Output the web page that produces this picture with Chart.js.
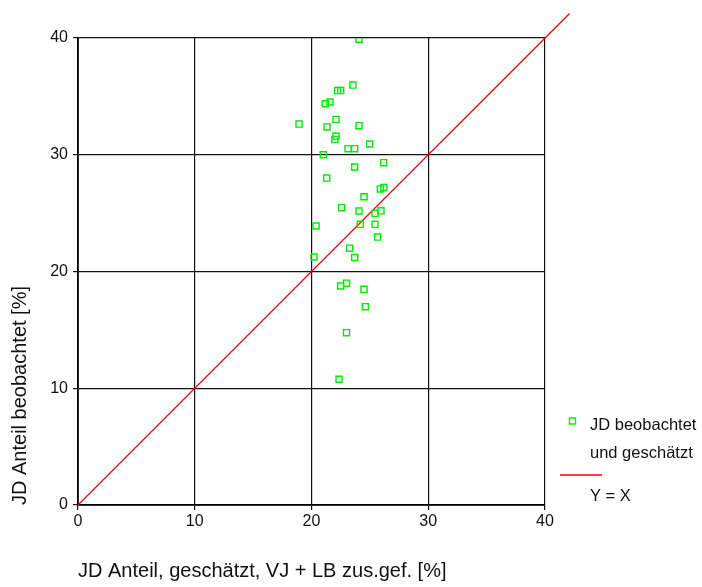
<!DOCTYPE html>
<html>
<head>
<meta charset="utf-8">
<script src="https://cdn.jsdelivr.net/npm/chart.js@4/dist/chart.umd.min.js"></script>
<style>
  html, body { margin: 0; padding: 0; background: #fff; }
  #c { display: block; }
</style>
</head>
<body>
<canvas id="c" width="702" height="587"></canvas>
<script>
// JD share: estimated (VJ + LB combined) vs. observed, in percent
const estimated = [24.07, 23.55, 22.24, 22.5, 21.58, 21.18, 18.93, 22.1, 21.33, 24.07,
                   22.1, 22.0, 23.13, 23.7, 24.98, 21.01, 23.7, 26.18, 21.3, 26.2,
                   25.9, 24.5, 22.58, 24.07, 25.44, 25.95, 24.18, 25.44, 20.39, 25.67,
                   23.27, 23.7, 20.21, 23.0, 22.5, 24.5, 24.61, 23.0, 22.36];
const observed  = [39.9, 35.97, 35.5, 35.5, 34.52, 34.37, 32.63, 33.03, 32.38, 32.49,
                   31.6, 31.3, 30.52, 30.52, 30.92, 30.0, 28.95, 29.32, 28.0, 27.2,
                   27.07, 26.4, 25.47, 25.18, 24.98, 25.2, 24.04, 24.04, 23.9, 22.95,
                   22.0, 21.2, 21.24, 19.0, 18.76, 18.47, 16.99, 14.76, 10.77];
// Reference line Y = X, running a little past the axis end
const diagonal = [0, 42.1];
const tickValues = [0, 10, 20, 30, 40];
const legendLabels = [["JD beobachtet", "und geschätzt"], ["Y = X"]];

const GREEN = 'rgb(0, 235, 0)';
const RED = 'rgb(255, 0, 0)';
const FAMILY = '"Liberation Sans", Arial, sans-serif';

const scatterData = estimated.map((x, i) => ({ x: x, y: observed[i] }));
const lineData = diagonal.map(v => ({ x: v, y: v }));

// Legend at the right of the plot, below the middle
const sideLegend = {
  id: 'sideLegend',
  afterDraw(chart) {
    const ctx = chart.ctx;
    ctx.save();
    ctx.font = '16.5px ' + FAMILY;
    ctx.fillStyle = '#111';
    ctx.textBaseline = 'middle';
    ctx.textAlign = 'left';
    ctx.strokeStyle = GREEN;
    ctx.lineWidth = 1.4;
    ctx.strokeRect(569.5, 418, 6, 6);
    ctx.fillText(legendLabels[0][0], 590, 425);
    ctx.fillText(legendLabels[0][1], 590, 453);
    ctx.strokeStyle = RED;
    ctx.lineWidth = 1.3;
    ctx.beginPath();
    ctx.moveTo(560, 475);
    ctx.lineTo(602, 475);
    ctx.stroke();
    ctx.fillText(legendLabels[1][0], 590, 496);
    ctx.restore();
  }
};

const tickFont = { family: FAMILY, size: 16 };
const titleFont = { family: FAMILY, size: 20 };

function axis(titleText, isX) {
  return {
    type: 'linear',
    min: 0,
    max: 40,
    afterBuildTicks: s => { s.ticks = tickValues.map(v => ({ value: v })); },
    ticks: { font: tickFont, color: '#111', padding: isX ? 2 : 5, maxRotation: 0 },
    grid: { color: '#111', lineWidth: 1.2, tickLength: 5, drawTicks: true },
    border: { display: true, color: '#000', width: 1.8 },
    title: {
      display: true,
      text: titleText,
      align: 'start',
      font: titleFont,
      color: '#111',
      padding: isX ? { top: 0, bottom: 4 } : { top: 8, bottom: 0 }
    },
    afterFit: s => { if (isX) { s.height = 82; } else { s.width = 78; } }
  };
}

new Chart(document.getElementById('c'), {
  type: 'scatter',
  data: {
    datasets: [
      {
        label: 'Y = X',
        type: 'line',
        data: lineData,
        borderColor: RED,
        borderWidth: 1.3,
        pointRadius: 0,
        fill: false,
        clip: false,
        order: 2
      },
      {
        label: 'JD beobachtet und geschätzt',
        data: scatterData,
        pointStyle: 'rect',
        pointRadius: 4.3,
        borderColor: GREEN,
        backgroundColor: 'rgba(0,0,0,0)',
        borderWidth: 1.4,
        order: 1
      }
    ]
  },
  options: {
    responsive: false,
    animation: false,
    devicePixelRatio: 1,
    layout: { padding: { top: 38, right: 157, bottom: 0, left: 0 } },
    plugins: { legend: { display: false }, tooltip: { enabled: false } },
    scales: {
      x: axis('JD Anteil, geschätzt, VJ + LB zus.gef. [%]', true),
      y: axis('JD Anteil beobachtet [%]', false)
    }
  },
  plugins: [sideLegend]
});
</script>
</body>
</html>
